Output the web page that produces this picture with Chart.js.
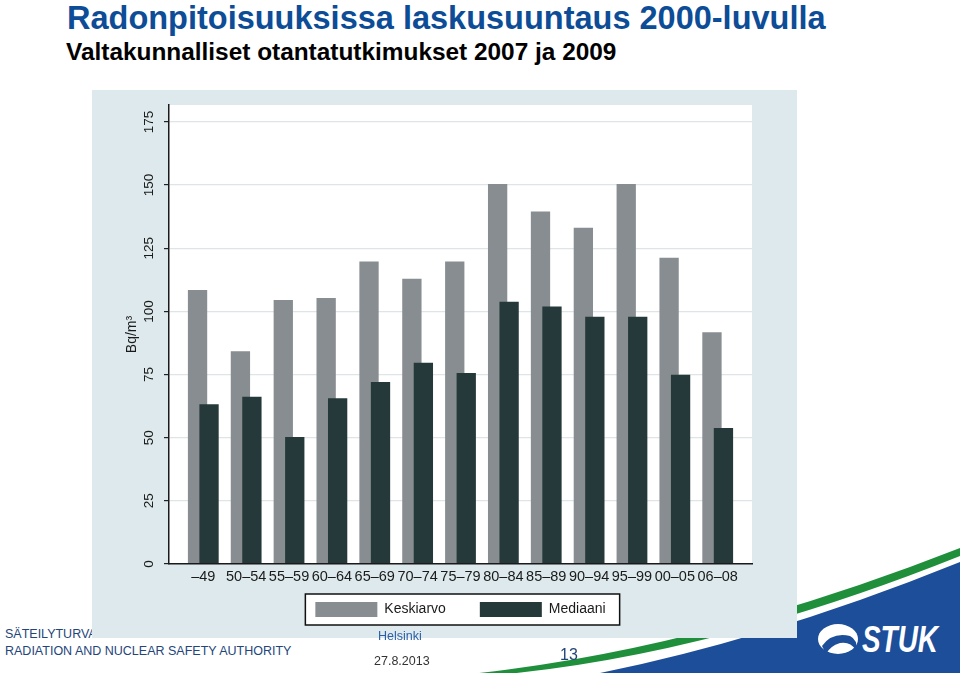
<!DOCTYPE html>
<html>
<head>
<meta charset="utf-8">
<script src="https://cdn.jsdelivr.net/npm/chart.js@4/dist/chart.umd.min.js"></script>
<style>
  body { margin: 0; width: 960px; height: 673px; background: #fff; position: relative; overflow: hidden; font-family: "Liberation Sans", Arial, sans-serif; }
  .abs { position: absolute; white-space: nowrap; line-height: 1; }
  #title { left: 67px; top: 2px; font-size: 32.5px; font-weight: bold; color: #0d4c96; }
  #subtitle { left: 66px; top: 40px; font-size: 24.4px; font-weight: bold; color: #000; }
  #panel { left: 92px; top: 90px; width: 705px; height: 548px; background: #dde9ec; z-index: 2; }
  .foot { font-size: 12.5px; color: #24457a; }
  #swoosh { position: absolute; left: 0; top: 0; z-index: 1; }
</style>
</head>
<body>
<div id="title" class="abs">Radonpitoisuuksissa laskusuuntaus 2000-luvulla</div>
<div id="subtitle" class="abs">Valtakunnalliset otantatutkimukset 2007 ja 2009</div>

<!-- STUK swoosh + logo -->
<svg id="swoosh" width="960" height="673" viewBox="0 0 960 673">
  <path d="M470,674 Q700,650 960,548 L960,556 Q705,658 485,676 Z" fill="#1f8f3c"/>
  <path d="M585,676 Q765,641 960,562 L960,673 L585,673 Z" fill="#1d4e9a"/>
  <ellipse cx="838" cy="639" rx="20" ry="15" fill="#fff"/>
  <path d="M822,646 Q832,632 850,636 Q858,640 856,650 Q850,641 840,643 Q830,646 826,654 Z" fill="#1d4e9a"/>
  <text x="862" y="652" font-size="37" font-weight="bold" font-style="italic" fill="#fff"
        textLength="76" lengthAdjust="spacingAndGlyphs" font-family="Liberation Sans, Arial">STUK</text>
</svg>

<div class="abs foot" style="left:5px; top:628px; z-index:1;">SÄTEILYTURVAKESKUS</div>
<div class="abs foot" style="left:5px; top:645px; z-index:1;">RADIATION AND NUCLEAR SAFETY AUTHORITY</div>
<div class="abs foot" style="left:378px; top:630px; z-index:3; color:#2a5fa8;">Helsinki</div>
<div class="abs foot" style="left:374px; top:655px; z-index:3; color:#333;">27.8.2013</div>
<div class="abs" style="left:560px; top:647px; z-index:3; font-size:16px; color:#24457a;">13</div>

<div id="panel" class="abs">
  <canvas id="radonChart" width="705" height="548"></canvas>
</div>

<script>
// Rakennusvuodet (x-akseli)
const periods = ['–49', '50–54', '55–59', '60–64', '65–69', '70–74', '75–79',
                 '80–84', '85–89', '90–94', '95–99', '00–05', '06–08'];

// Radonpitoisuus Bq/m3
const keskiarvo = [108.5, 84.2, 104.5, 105.3, 119.7, 112.9, 119.7, 150.4, 139.5, 133.1, 150.4, 121.2, 91.7];
const mediaani = [63.2, 66.2, 50.3, 65.6, 72.0, 79.7, 75.6, 103.8, 101.9, 97.9, 97.9, 74.9, 53.8];

const yTicks = [0, 25, 50, 75, 100, 125, 150, 175];

const GRAY = '#878d90';
const DARK = '#25393a';

// White plot area, box round the legend, datasets drawn in index order (median on top)
const backgroundPlugin = {
    id: 'backgrounds',
    afterLayout(chart) {
        // let the x tick labels show below the (thin) axis box
        chart.scales.x.bottom = chart.scales.x.top + 30;
    },
    beforeDraw(chart) {
        const ctx = chart.ctx;
        const a = chart.chartArea;
        ctx.save();
        ctx.fillStyle = '#fff';
        ctx.fillRect(a.left, a.top, a.right - a.left, a.bottom - a.top);

        const boxes = chart.legend.legendHitBoxes;
        if (boxes && boxes.length) {
            const first = boxes[0];
            const last = boxes[boxes.length - 1];
            const x0 = first.left - 10;
            const x1 = last.left + last.width + 14;
            const y0 = first.top - 8;
            const y1 = first.top + first.height + 8;
            ctx.fillRect(x0, y0, x1 - x0, y1 - y0);
            ctx.strokeStyle = '#111';
            ctx.lineWidth = 1.5;
            ctx.strokeRect(x0, y0, x1 - x0, y1 - y0);
        }
        ctx.restore();
    },
    beforeDatasetsDraw(chart) {
        chart.getSortedVisibleDatasetMetas().forEach(meta => meta.controller.draw());
        return false;
    }
};

const toPoints = values => values.map((v, i) => ({ x: i, y: v }));

const ctx = document.getElementById('radonChart').getContext('2d');
const radonChart = new Chart(ctx, {
    type: 'bar',
    data: {
        datasets: [
            { label: 'Keskiarvo', data: toPoints(keskiarvo), backgroundColor: GRAY, borderWidth: 0 },
            { label: 'Mediaani', data: toPoints(mediaani), backgroundColor: DARK, borderWidth: 0 }
        ]
    },
    options: {
        responsive: false,
        animation: false,
        categoryPercentage: 0.536,
        barPercentage: 1.68,
        layout: { padding: { top: 15, right: 45, bottom: 11, left: 0 } },
        scales: {
            x: {
                type: 'linear',
                min: -0.8,
                max: 12.8,
                offset: false,
                afterBuildTicks: axis => {
                    axis.ticks = periods.map((p, i) => ({ value: i }));
                },
                afterFit: axis => { axis.height = 4; },
                grid: { display: false, drawTicks: false },
                border: { display: true, color: '#1a1a1a', width: 1.5, z: 1 },
                ticks: {
                    autoSkip: false,
                    maxRotation: 0,
                    padding: 4,
                    color: '#1a1a1a',
                    font: { family: 'Liberation Sans, Arial', size: 14.5 },
                    callback: value => periods[value]
                }
            },
            y: {
                min: 0,
                max: 181.7,
                afterBuildTicks: axis => { axis.ticks = yTicks.map(v => ({ value: v })); },
                afterFit: axis => { axis.width = 77; },
                grid: { color: '#dfe4e6', lineWidth: 1.2, tickColor: '#222', tickLength: 5 },
                border: { display: true, color: '#1a1a1a', width: 1.5 },
                ticks: {
                    minRotation: 90, maxRotation: 90, crossAlign: 'center', padding: 3,
                    color: '#1a1a1a', font: { family: 'Liberation Sans, Arial', size: 13.5 }
                },
                title: {
                    display: true, text: 'Bq/m³', color: '#1a1a1a',
                    padding: { top: 32, bottom: 0 },
                    font: { family: 'Liberation Sans, Arial', size: 14 }
                }
            }
        },
        plugins: {
            legend: {
                display: true, position: 'bottom', fullSize: false,
                labels: { boxWidth: 62, boxHeight: 15, padding: 34, color: '#1a1a1a',
                          font: { family: 'Liberation Sans, Arial', size: 14 } }
            },
            tooltip: { enabled: false }
        }
    },
    plugins: [backgroundPlugin]
});
</script>
</body>
</html>
